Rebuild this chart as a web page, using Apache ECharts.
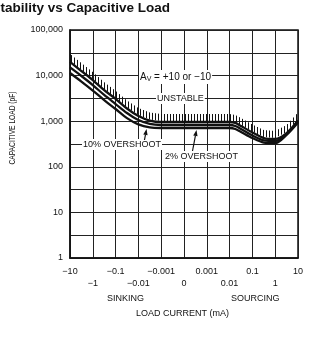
<!DOCTYPE html>
<html>
<head>
<meta charset="utf-8">
<script src="https://cdn.jsdelivr.net/npm/echarts@6/dist/echarts.min.js"></script>
<style>
  html, body { margin: 0; padding: 0; background: #fff; }
  #chart { width: 335px; height: 342px; }
</style>
</head>
<body>
<div id="chart"></div>
<script>
// x positions are grid steps: 0 = -10 mA ... 5 = 0 ... 10 = +10 mA
const xLabels = ['−10', '−1', '−0.1', '−0.01', '−0.001', '0', '0.001', '0.01', '0.1', '1', '10'];
// y axis is log10 of capacitance in pF
const yLabels = ['1', '10', '100', '1,000', '10,000', '100,000'];

const xPos = [0, 0.5, 1, 1.5, 2, 2.5, 3, 3.5, 4, 7, 7.25, 7.5, 8, 8.5, 9, 9.5, 10];
// upper edge of the band (unstable boundary), pF
const edgeTop = [20000, 12600, 8000, 4800, 3100, 1900, 1300, 1035, 960, 960, 915, 785, 565, 427, 408, 550, 1035];
// middle curve, pF
const curveMid = [15100, 9800, 6200, 3760, 2380, 1510, 1060, 870, 826, 826, 785, 675, 485, 378, 368, 525, 985];
// lower curve, pF
const curveLow = [11400, 7400, 4700, 2900, 1850, 1170, 850, 730, 710, 710, 675, 580, 427, 340, 330, 500, 935];

const ink = '#111';
const labelFont = 'Liberation Sans, Arial, sans-serif';

const toSeries = arr => xPos.map((x, i) => [x, Math.log10(arr[i])]);

const chart = echarts.init(document.getElementById('chart'));

function lineSeries(arr) {
  return {
    type: 'line',
    data: toSeries(arr),
    smooth: 0.3,
    symbol: 'none',
    silent: true,
    lineStyle: { color: ink, width: 2.3 },
    z: 3
  };
}

// arrow from tail to head, filled triangular head
function arrow(x1, y1, x2, y2) {
  const ang = Math.atan2(y2 - y1, x2 - x1);
  const len = 6, half = 2.2;
  const bx = x2 - len * Math.cos(ang), by = y2 - len * Math.sin(ang);
  const nx = -Math.sin(ang) * half, ny = Math.cos(ang) * half;
  return [
    { type: 'line', shape: { x1: x1, y1: y1, x2: bx, y2: by }, style: { stroke: ink, lineWidth: 1.2 }, z: 10 },
    { type: 'polygon', shape: { points: [[x2, y2], [bx + nx, by + ny], [bx - nx, by - ny]] }, style: { fill: ink }, z: 10 }
  ];
}

function note(text, x, y, extra) {
  return Object.assign({
    type: 'text', left: x, top: y, z: 10,
    style: {
      text: text, fill: ink, font: '9px ' + labelFont,
      backgroundColor: '#fff', padding: [1, 1, 1, 1]
    }
  }, extra || {});
}

chart.setOption({
  animation: false,
  grid: {
    left: 70, top: 30, right: 37, bottom: 84,
    show: true, borderColor: ink, borderWidth: 1.5
  },
  xAxis: {
    type: 'value', min: 0, max: 10, interval: 1,
    axisLine: { show: true, lineStyle: { color: ink, width: 1.5 } },
    axisTick: { show: false },
    splitLine: { show: true, lineStyle: { color: '#222', width: 1 } },
    axisLabel: {
      margin: 8, lineHeight: 12, fontSize: 9, fontFamily: labelFont, color: '#111',
      showMinLabel: true, showMaxLabel: true,
      formatter: v => {
        const i = Math.round(v);
        return i % 2 ? '\n' + xLabels[i] : xLabels[i];
      }
    }
  },
  yAxis: {
    type: 'value', min: 0, max: 5, interval: 0.5,
    axisLine: { show: true, lineStyle: { color: ink, width: 1.5 } },
    axisTick: { show: false },
    splitLine: { show: true, lineStyle: { color: '#222', width: 1 } },
    axisLabel: {
      margin: 7, fontSize: 9, fontFamily: labelFont, color: '#111',
      formatter: v => Number.isInteger(v) ? yLabels[v] : ''
    }
  },
  series: [
    {
      type: 'custom',
      silent: true,
      z: 2,
      data: [[0, 0]],
      renderItem: function (params, api) {
        const pts = xPos.map((x, i) => api.coord([x, Math.log10(edgeTop[i])]));
        const children = [];
        const last = pts[pts.length - 1][0];
        for (let px = pts[0][0] + 1.5; px <= last; px += 3) {
          let k = 0;
          while (k < pts.length - 2 && pts[k + 1][0] < px) k++;
          const a = pts[k], b = pts[k + 1];
          const t = (px - a[0]) / (b[0] - a[0]);
          const py = a[1] + t * (b[1] - a[1]);
          children.push({
            type: 'line',
            shape: { x1: px, y1: py - 1, x2: px, y2: py - 8 },
            style: { stroke: ink, lineWidth: 1 }
          });
        }
        return { type: 'group', children: children };
      }
    },
    lineSeries(edgeTop),
    lineSeries(curveMid),
    lineSeries(curveLow)
  ],
  graphic: [
    {
      type: 'text', x: -8.5, y: 1,
      style: {
        text: 'Stability vs Capacitive Load', fill: '#111',
        font: 'bold 13.5px ' + labelFont, verticalAlign: 'top'
      }
    },
    {
      type: 'text', left: 139, top: 70, z: 10,
      style: {
        text: '{a|A}{s|V}{a| = +10 or −10}',
        backgroundColor: '#fff', padding: [1, 1, 1, 1],
        rich: {
          a: { fontSize: 10, fontFamily: labelFont, fill: ink, color: ink },
          s: { fontSize: 7, fontFamily: labelFont, fill: ink, color: ink, padding: [5, 0, 0, 0] }
        }
      }
    },
    note('UNSTABLE', 156, 93),
    note('10% OVERSHOOT', 82, 139),
    note('2% OVERSHOOT', 164, 151),
    ...arrow(144.5, 140, 146.5, 129),
    ...arrow(192.5, 151, 196.5, 130),
    {
      type: 'text', left: 107, top: 294,
      style: { text: 'SINKING', fill: ink, font: '9px ' + labelFont }
    },
    {
      type: 'text', left: 231, top: 294,
      style: { text: 'SOURCING', fill: ink, font: '9px ' + labelFont }
    },
    {
      type: 'text', left: 136, top: 309,
      style: { text: 'LOAD CURRENT (mA)', fill: ink, font: '9px ' + labelFont }
    },
    {
      type: 'text', x: 13, y: 128, rotation: Math.PI / 2, scaleX: 0.74,
      style: {
        text: 'CAPACITIVE LOAD (pF)', fill: ink, font: '9px ' + labelFont,
        align: 'center', verticalAlign: 'middle'
      }
    }
  ]
});
</script>
</body>
</html>
